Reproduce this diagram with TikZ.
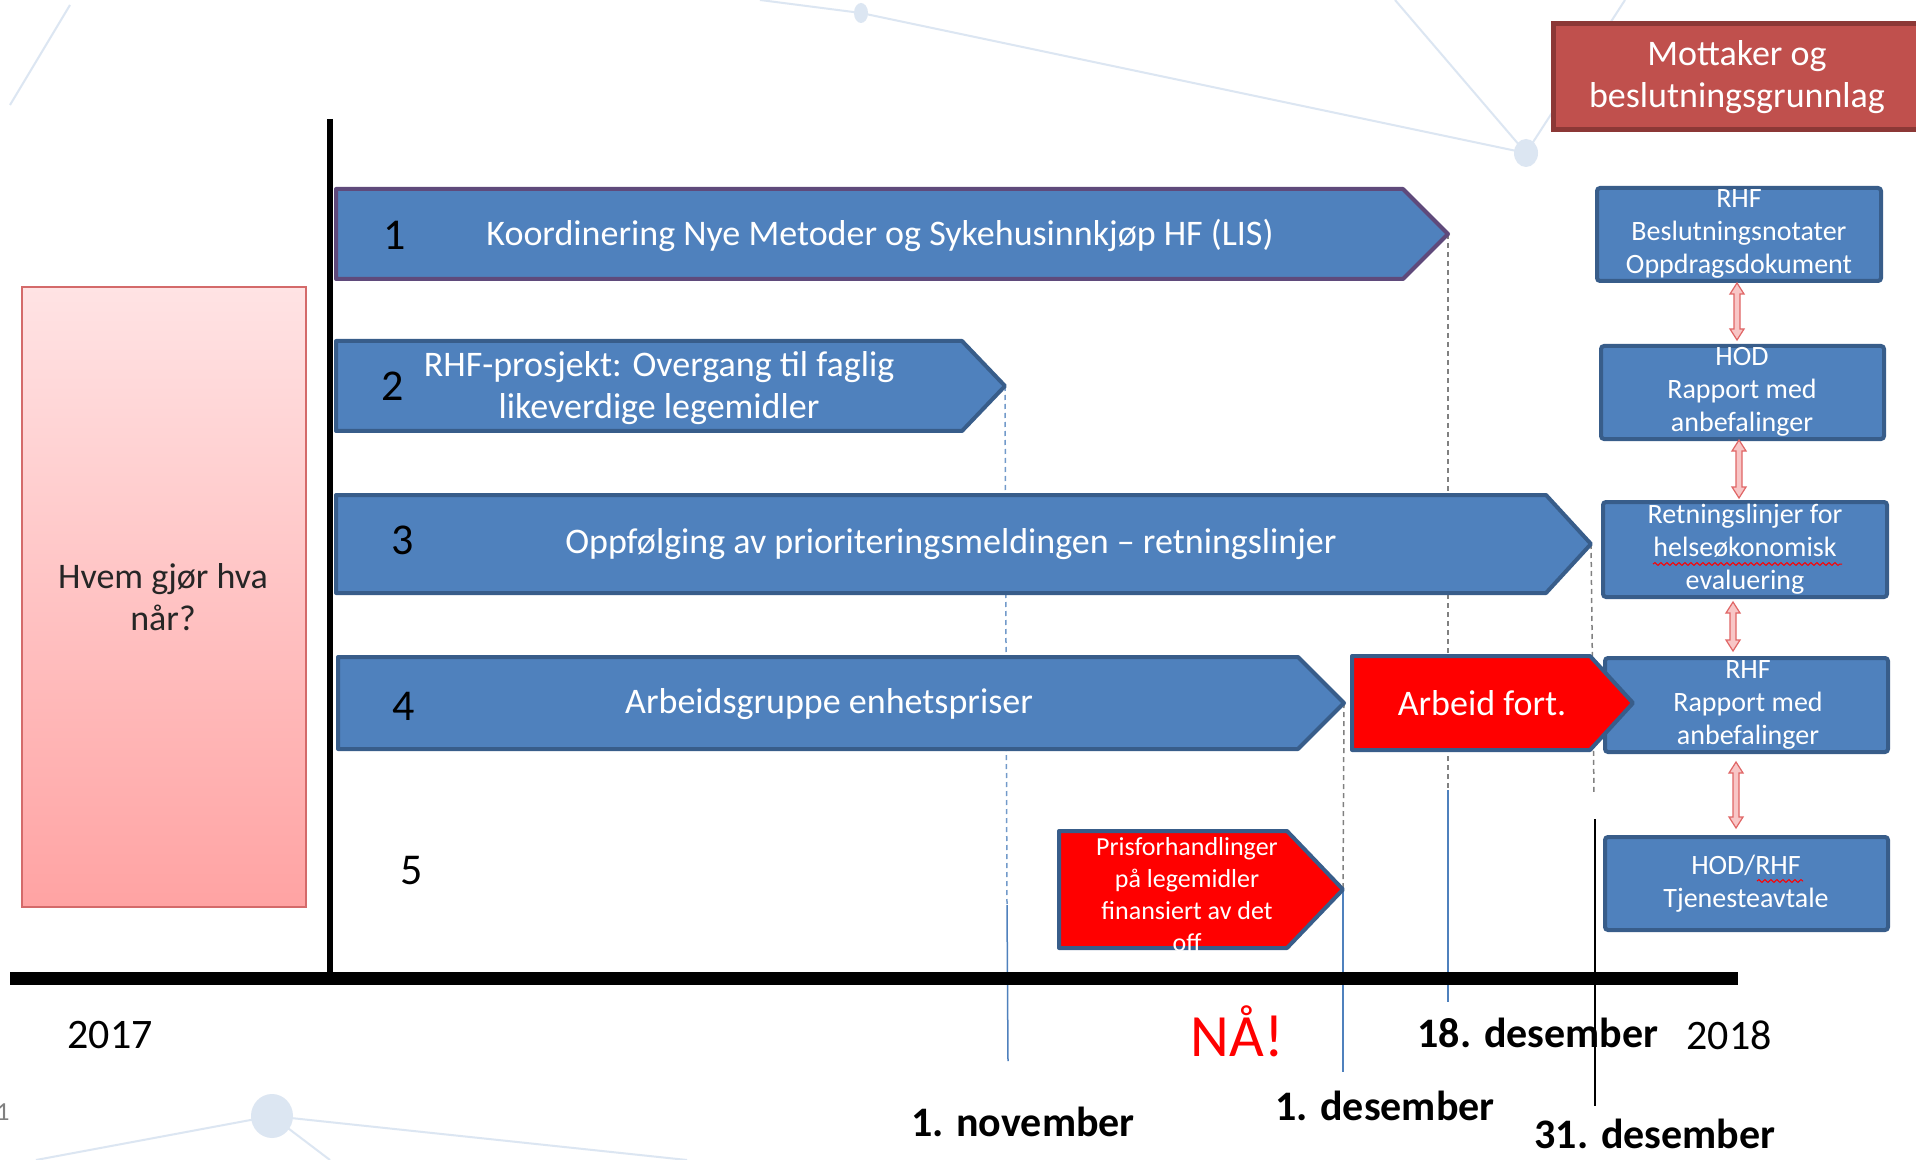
\documentclass[tikz,border=0pt]{standalone}
\usepackage{fontspec}
\setmainfont{Carlito}
\usetikzlibrary{decorations.pathmorphing}
\definecolor{bF}{HTML}{4F81BD}
\definecolor{bD}{HTML}{385D8A}
\definecolor{pD}{HTML}{5F4A7B}
\definecolor{rF}{HTML}{C0504D}
\definecolor{rD}{HTML}{8C3836}
\definecolor{bgl}{HTML}{DCE6F2}
\definecolor{dF}{HTML}{F8C6C6}
\definecolor{dD}{HTML}{E06666}
\definecolor{gd}{HTML}{808080}
\definecolor{pkT}{HTML}{FFE3E4}
\definecolor{pkB}{HTML}{FFA3A3}
\definecolor{pkD}{HTML}{D46A6A}
\tikzset{
  bar/.style={fill=bF,draw=bD,line width=2pt,line join=round},
  redbar/.style={fill=red,draw=bD,line width=2pt,line join=round},
  rbox/.style={fill=bF,draw=bD,line width=2pt,rounded corners=1.5pt},
  wt/.style={text=white,font=\fontsize{18}{21}\selectfont,align=center,inner sep=0pt},
  st/.style={text=white,font=\fontsize{14}{16.5}\selectfont,align=center,inner sep=0pt},
  pt/.style={text=white,font=\fontsize{13}{16}\selectfont,align=center,inner sep=0pt},
  num/.style={text=black,font=\fontsize{22}{26}\selectfont,inner sep=0pt},
  dlab/.style={font=\bfseries\fontsize{21}{25}\selectfont,inner sep=0pt},
  ylab/.style={font=\fontsize{21}{25}\selectfont,inner sep=0pt},
  dsh/.style={gd,line width=0.75pt,dash pattern=on 2.5pt off 2pt},
  dshb/.style={bF!80,line width=0.75pt,dash pattern=on 2.5pt off 2pt},
  solb/.style={bF,line width=0.75pt},
  bgline/.style={bgl,line width=1pt},
  dblarr/.style={fill=dF,draw=dD,line width=0.6pt,line join=miter},
  wavy/.style={red,line width=0.5pt,decorate,decoration={snake,amplitude=0.7pt,segment length=3pt}},
}
\newcommand\pent[6]{\draw[#1] (#2,#3) -- (#4,#3) -- (#5,{(#3+#6)/2}) -- (#4,#6) -- (#2,#6) -- cycle;}
\newcommand\dbla[3]{%
  \pgfmathsetmacro\dA{#2+11}\pgfmathsetmacro\dB{#3-11}%
  \draw[dblarr] ({#1-3},\dA) -- ({#1-7},\dA) -- (#1,#2) -- ({#1+7},\dA) -- ({#1+3},\dA)
     -- ({#1+3},\dB) -- ({#1+7},\dB) -- (#1,#3) -- ({#1-7},\dB) -- ({#1-3},\dB) -- cycle;}
\begin{document}
\begin{tikzpicture}[x=0.5pt,y=-0.5pt]
\useasboundingbox (0,0) rectangle (1916,1160);
\clip (0,0) rectangle (1916,1160);
\fill[white] (0,0) rectangle (1916,1160);

% background decoration
\draw[bgline] (10,105) -- (70,5);
\draw[bgline] (760,0) -- (861,13) -- (1526,153);
\draw[bgline] (1395,0) -- (1526,153) -- (1625,0);
\fill[bgl] (861,13) ellipse [x radius=7, y radius=10];
\fill[bgl] (1526,153) ellipse [x radius=12, y radius=14];
\draw[bgline] (36,1160) -- (272,1116) -- (687,1160);
\draw[bgline] (272,1116) -- (330,1160);
\fill[bgl] (272,1116) ellipse [x radius=21, y radius=22];
\node[text=gray,font=\fontsize{13}{15}\selectfont,inner sep=0pt] (slide) at (3,1112) {1};

% tip coordinates
\coordinate (t1) at (1448,234);
\coordinate (t2) at (1005,386);
\coordinate (t3) at (1591,544);
\coordinate (t4) at (1344,703);
\coordinate (t5) at (1343,889.5);
\coordinate (n1) at (1007,905);
\coordinate (n2) at (1008,1061);
\coordinate (d1) at (1343,1072);
\coordinate (e1) at (1448,790);
\coordinate (e2) at (1448,1002);
\coordinate (s1) at (1594,795);
\coordinate (s2) at (1595,819);
\coordinate (s3) at (1595,1106);

% vertical date lines
\draw[dshb] (t2) -- (n1);
\draw[solb] (n1) -- (n2);
\draw[dsh] (t4) -- (t5);
\draw[solb] (t5) -- (d1);
\draw[dsh] (t1) -- (e1);
\draw[solb] (e1) -- (e2);
\draw[dsh] (t3) -- (s1);
\draw[black,line width=0.9pt] (s2) -- (s3);

% pink box
\draw[top color=pkT,bottom color=pkB,draw=pkD,line width=1pt] (22,287) rectangle (306,907);
\node[text=black!85,font=\fontsize{18}{21}\selectfont,align=center,inner sep=0pt] (hvem) at (163,597) {Hvem gjør hva\\når?};

% blue arrows
\pent{bar,draw=pD}{336}{189}{1403}{1448}{279}
\pent{bar}{336}{341}{962}{1005}{431}
\pent{bar}{336}{495}{1546}{1591}{593}
\pent{bar}{338}{657}{1298}{1344}{749}
\pent{redbar}{1059}{831}{1287}{1343}{948}

\node[num] (k1) at (395,235) {1};
\node[wt] (a1) at (880,235) {Koordinering Nye Metoder og Sykehusinnkjøp HF (LIS)};
\node[num] (k2) at (393,386) {2};
\node[wt] (a2) at (659,388) {RHF-prosjekt: Overgang til faglig\\likeverdige legemidler};
\node[num] (k3) at (403,540) {3};
\node[wt] (a3) at (951,544) {Oppfølging av prioriteringsmeldingen – retningslinjer};
\node[num] (k4) at (404,706) {4};
\node[wt] (a4) at (829,704) {Arbeidsgruppe enhetspriser};
\node[num] (k5) at (412,871) {5};
\node[pt] (pf) at (1187,895) {Prisforhandlinger\\på legemidler\\finansiert av det\\off};

% header box
\draw[fill=rF,draw=rD,line width=2.5pt] (1553,24) rectangle (1940,130);
\node[wt,font=\fontsize{18}{21}\selectfont] (mot) at (1737,77) {Mottaker og\\beslutningsgrunnlag};

% right boxes
\draw[rbox] (1597,188) rectangle (1881,281);
\node[st] (ra) at (1739,234) {RHF\\Beslutningsnotater\\Oppdragsdokument};
\draw[rbox] (1601,346) rectangle (1884,439);
\node[st] (rb) at (1742,392) {HOD\\Rapport med\\anbefalinger};
\draw[rbox] (1603,502) rectangle (1887,597);
\node[st] (rc) at (1745,549) {Retningslinjer for\\helseøkonomisk\\evaluering};
\draw[rbox] (1605,658) rectangle (1888,752);
\node[st] (rd) at (1748,705) {RHF\\Rapport med\\anbefalinger};
\draw[rbox] (1605,837) rectangle (1888,930);
\node[st] (re) at (1746,884) {HOD/RHF\\Tjenesteavtale};
\draw[wavy] (1653,564) -- (1842,564);
\draw[wavy] (1757,881) -- (1803,881);

% red arrow on top of the box it points into
\pent{redbar}{1352}{656}{1590}{1633}{750}
\node[wt] (af) at (1482,703) {Arbeid fort.};

% double arrows
\dbla{1737}{283}{340}
\dbla{1739}{440}{498}
\dbla{1733}{602}{651}
\dbla{1736}{762}{828}

% axes
\draw[black,line width=3pt] (330,119) -- (330,978);
\draw[black,line width=6.5pt] (10,978) -- (1738,978);

% labels
\node[ylab] (y17) at (110,1035) {2017};
\node[ylab] (y18) at (1729,1035) {2018};
\node[text=red,font=\fontsize{30}{34}\selectfont,inner sep=0pt] (naa) at (1237,1031) {NÅ!};
\node[dlab] (l18) at (1538,1033) {18. desember};
\node[dlab] (l1n) at (1023,1122) {1. november};
\node[dlab] (l1d) at (1385,1106) {1. desember};
\node[dlab] (l31) at (1655,1134) {31. desember};
\end{tikzpicture}
\end{document}
